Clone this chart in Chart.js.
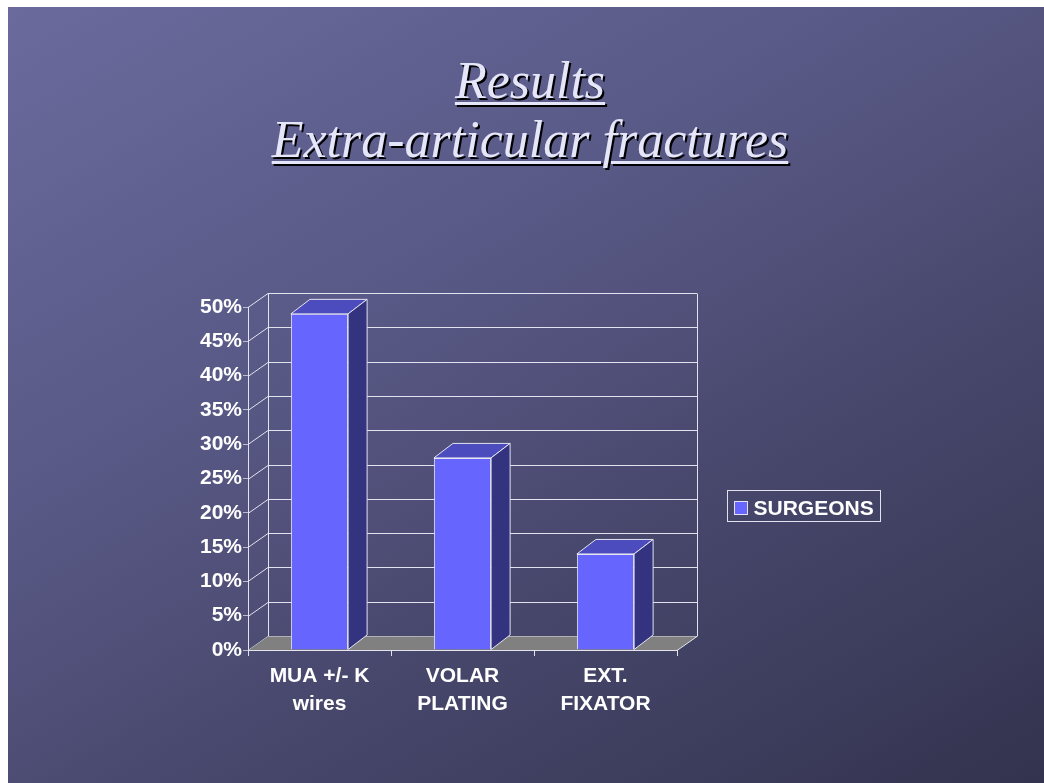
<!DOCTYPE html>
<html>
<head>
<meta charset="utf-8">
<script src="https://cdn.jsdelivr.net/npm/chart.js@4"></script>
<style>
  html, body { margin: 0; padding: 0; background: #fff; }
  body { width: 1044px; height: 783px; position: relative; overflow: hidden; }
  #slide {
    position: absolute; left: 8px; top: 7px; width: 1036px; height: 776px;
    background: linear-gradient(150deg, #6a6a9d 0%, #5a5a88 35%, #47476c 65%, #33334f 100%);
  }
  #titulo {
    position: absolute; left: 0; top: 51px; width: 1060px; text-align: center;
    font-family: "Liberation Serif", "Times New Roman", serif; font-style: italic;
    font-size: 52px; line-height: 59px; color: #e6e6fa;
    text-decoration: underline; text-decoration-thickness: 3px; text-underline-offset: 4px;
    text-shadow: 2px 2px 0 #000;
  }
  #grafico { position: absolute; left: 0; top: 0; }
</style>
</head>
<body>
<div id="slide"></div>
<div id="titulo">Results<br>Extra-articular fractures</div>
<canvas id="grafico" width="1044" height="783"></canvas>
<script>
const categorias = [['MUA +/- K', 'wires'], ['VOLAR', 'PLATING'], ['EXT.', 'FIXATOR']];
const surgeons = [49, 28, 14];
const nomeSerie = 'SURGEONS';
const yMax = 50;
const yPasso = 5;

const corFrente = '#6666ff';
const corTopo = '#4c4cbf';
const corLado = '#33337f';
const corLinha = 'rgba(235,235,245,0.95)';
const fonte = '"Liberation Sans", Arial, sans-serif';

// deslocamento da parede de fundo e da profundidade das barras
const PAREDE = { dx: 20, dy: -14 };
const BARRA = { dx: 19, dy: -14.5 };

const efeito3d = {
    id: 'efeito3d',
    beforeDatasetsDraw(chart) {
        const { ctx, chartArea: a, scales } = chart;
        const y = scales.y;
        ctx.save();
        ctx.strokeStyle = corLinha;
        ctx.lineWidth = 1;
        // linhas de grade na parede do fundo
        for (let v = 0; v <= yMax; v += yPasso) {
            const py = Math.round(y.getPixelForValue(v)) + 0.5;
            ctx.beginPath();
            ctx.moveTo(a.left, py);
            ctx.lineTo(a.left + PAREDE.dx, py + PAREDE.dy);
            ctx.lineTo(a.right + PAREDE.dx, py + PAREDE.dy);
            ctx.stroke();
        }
        const topo = Math.round(y.getPixelForValue(yMax)) + 0.5 + PAREDE.dy;
        const fundo = Math.round(y.getPixelForValue(0)) + 0.5 + PAREDE.dy;
        ctx.beginPath();
        ctx.moveTo(a.left + PAREDE.dx + 0.5, topo);
        ctx.lineTo(a.left + PAREDE.dx + 0.5, fundo);
        ctx.moveTo(a.right + PAREDE.dx + 0.5, topo);
        ctx.lineTo(a.right + PAREDE.dx + 0.5, fundo);
        ctx.stroke();
        // piso
        const base = Math.round(y.getPixelForValue(0)) + 0.5;
        ctx.beginPath();
        ctx.moveTo(a.left, base);
        ctx.lineTo(a.left + PAREDE.dx, base + PAREDE.dy);
        ctx.lineTo(a.right + PAREDE.dx, base + PAREDE.dy);
        ctx.lineTo(a.right, base);
        ctx.closePath();
        ctx.fillStyle = '#808080';
        ctx.fill();
        ctx.beginPath();
        ctx.moveTo(a.left, base);
        ctx.lineTo(a.right, base);
        ctx.lineTo(a.right + PAREDE.dx, base + PAREDE.dy);
        ctx.stroke();
        ctx.restore();
    },
    afterDatasetsDraw(chart) {
        const { ctx } = chart;
        const meta = chart.getDatasetMeta(0);
        ctx.save();
        ctx.strokeStyle = corLinha;
        ctx.lineWidth = 1;
        ctx.lineJoin = 'round';
        meta.data.forEach((barra) => {
            const { x, y, width, base } = barra.getProps(['x', 'y', 'width', 'base'], true);
            const e = x - width / 2, d = x + width / 2;
            ctx.beginPath();
            ctx.moveTo(e, y);
            ctx.lineTo(e + BARRA.dx, y + BARRA.dy);
            ctx.lineTo(d + BARRA.dx, y + BARRA.dy);
            ctx.lineTo(d, y);
            ctx.closePath();
            ctx.fillStyle = corTopo;
            ctx.fill();
            ctx.stroke();
            ctx.beginPath();
            ctx.moveTo(d, y);
            ctx.lineTo(d + BARRA.dx, y + BARRA.dy);
            ctx.lineTo(d + BARRA.dx, base + BARRA.dy);
            ctx.lineTo(d, base);
            ctx.closePath();
            ctx.fillStyle = corLado;
            ctx.fill();
            ctx.stroke();
        });
        ctx.restore();
    },
    afterDraw(chart) {
        const { ctx, chartArea: a } = chart;
        const ds = chart.data.datasets[0];
        const bx = a.right + 50.5, by = 490.5, bw = 153, bh = 31;
        ctx.save();
        ctx.strokeStyle = corLinha;
        ctx.lineWidth = 1;
        ctx.strokeRect(bx, by, bw, bh);
        ctx.fillStyle = ds.backgroundColor;
        ctx.fillRect(bx + 7, by + 11, 13, 13);
        ctx.strokeRect(bx + 7, by + 11, 13, 13);
        ctx.fillStyle = '#ffffff';
        ctx.font = 'bold 21px ' + fonte;
        ctx.textBaseline = 'alphabetic';
        ctx.fillText(ds.label, bx + 26, by + 24);
        ctx.restore();
    }
};

function main() {
    const ctx = document.getElementById('grafico').getContext('2d');
    new Chart(ctx, {
        type: 'bar',
        data: {
            labels: categorias,
            datasets: [{
                label: nomeSerie,
                data: surgeons,
                backgroundColor: corFrente,
                borderColor: corLinha,
                borderWidth: 1,
                borderSkipped: 'bottom',
                barPercentage: 0.4,
                categoryPercentage: 1
            }]
        },
        plugins: [efeito3d],
        options: {
            responsive: false,
            animation: false,
            layout: { padding: { left: 180, right: 367, top: 307, bottom: 63 } },
            plugins: {
                legend: { display: false },
                tooltip: { enabled: false }
            },
            scales: {
                x: {
                    afterFit: (s) => { s.height = 70; },
                    grid: { display: true, drawOnChartArea: false, drawTicks: true, tickLength: 6, color: corLinha, offset: true },
                    border: { display: false },
                    ticks: {
                        color: '#ffffff',
                        font: { family: fonte, size: 21, weight: 'bold', lineHeight: 1.35 },
                        padding: 6,
                        maxRotation: 0,
                        autoSkip: false
                    }
                },
                y: {
                    min: 0,
                    max: yMax,
                    afterFit: (s) => { s.width = 68; },
                    grid: { display: true, drawOnChartArea: false, drawTicks: true, tickLength: 5, color: 'rgba(200,200,215,0.9)' },
                    border: { display: true, color: corLinha, width: 1 },
                    ticks: {
                        stepSize: yPasso,
                        color: '#ffffff',
                        padding: 1,
                        font: { family: fonte, size: 21, weight: 'bold' },
                        callback: (v) => v + '%'
                    }
                }
            }
        }
    });
}

window.addEventListener('DOMContentLoaded', main);
</script>
</body>
</html>
